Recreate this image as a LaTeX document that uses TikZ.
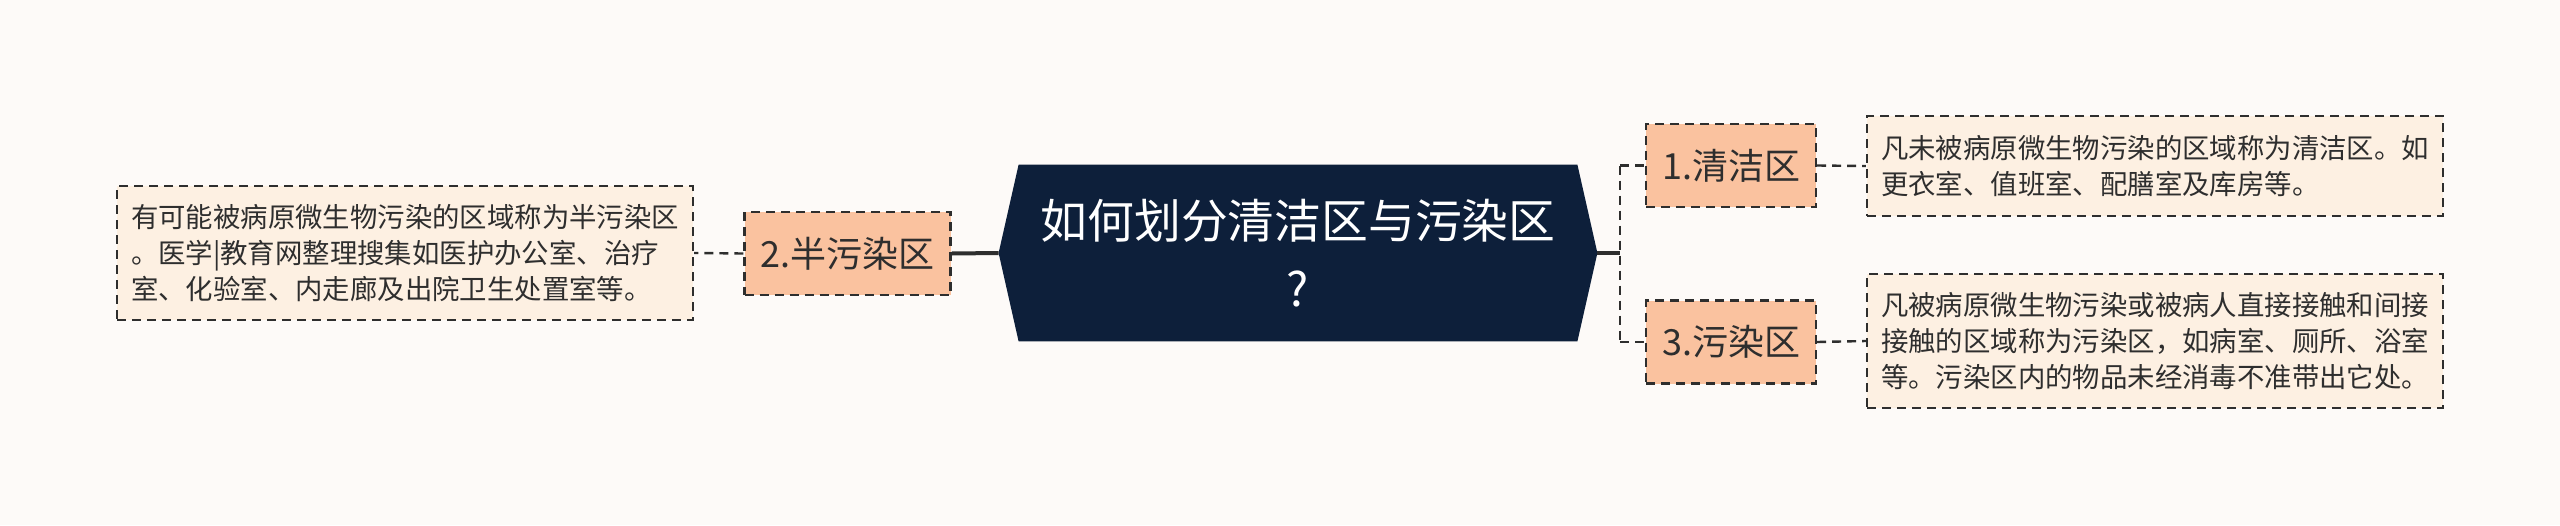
\documentclass[tikz,border=0pt]{standalone}
\usepackage{fontspec}
\setmainfont{Noto Sans CJK SC}
\usetikzlibrary{backgrounds}
\definecolor{bgc}{HTML}{FDFAF8}
\definecolor{navy}{HTML}{0D1F3A}
\definecolor{salmon}{HTML}{FAC29F}
\definecolor{cream}{HTML}{FDF0E2}
\definecolor{ink}{HTML}{2E2E2E}
\tikzset{
  dsh/.style={dash pattern=on 4.5pt off 3pt, line width=1.2pt, draw=ink},
  midbox/.style={dsh, fill=salmon, text=ink, font=\fontsize{18pt}{22pt}\selectfont,
    minimum width=85pt, minimum height=41.5pt, inner sep=0pt},
  detbox/.style={dsh, fill=cream, text=ink, font=\fontsize{13.7pt}{18pt}\selectfont,
    align=left, text width=274pt, inner xsep=7pt, inner ysep=0pt},
  conn/.style={dsh},
}
\begin{document}
\begin{tikzpicture}[x=0.5pt,y=-0.5pt]
\useasboundingbox (0,0) rectangle (2560,525);
% central node
\node[text=white, font=\fontsize{23.4pt}{34pt}\selectfont, align=center,
  minimum width=299pt, minimum height=88pt, inner sep=0pt] (c) at (1298,253)
  {如何划分清洁区与污染区\\?};
\begin{scope}[on background layer]
\fill[bgc] (0,0) rectangle (2560,525);
\fill[navy] (c.west) -- ([xshift=10pt]c.north west) -- ([xshift=-10pt]c.north east)
  -- (c.east) -- ([xshift=-10pt]c.south east) -- ([xshift=10pt]c.south west) -- cycle;
\end{scope}
% left branch
\node[midbox, minimum width=103pt] (m2) at (847.5,253.5) {2.半污染区};
\node[detbox, minimum height=67pt] (dl) at (405,253)
  {有可能被病原微生物污染的区域称为半污染区\\。医学|教育网整理搜集如医护办公室、治疗\\室、化验室、内走廊及出院卫生处置室等。};
% right branch
\node[midbox] (m1) at (1731,165.5) {1.清洁区};
\node[midbox] (m3) at (1731,342) {3.污染区};
\node[detbox, minimum height=50pt] (d1) at (2155,166)
  {凡未被病原微生物污染的区域称为清洁区。如\\更衣室、值班室、配膳室及库房等。};
\node[detbox, minimum height=67pt] (d3) at (2155,341)
  {凡被病原微生物污染或被病人直接接触和间接\\接触的区域称为污染区，如病室、厕所、浴室\\等。污染区内的物品未经消毒不准带出它处。};
\coordinate (j) at (1620,253);
\coordinate (j1) at (1620,165.5);
\coordinate (j3) at (1620,342);
% connectors
\draw[draw=ink, line width=2pt] (c.west) -- (m2.east);
\draw[conn] (m2.west) -- (dl.east);
\draw[draw=ink, line width=2pt] (c.east) -- (j);
\draw[conn] (j1) -- (j3);
\draw[conn] (j1) -- (m1.west);
\draw[conn] (j3) -- (m3.west);
\draw[conn] (m1.east) -- (d1.west);
\draw[conn] (m3.east) -- (d3.west);
\end{tikzpicture}
\end{document}
